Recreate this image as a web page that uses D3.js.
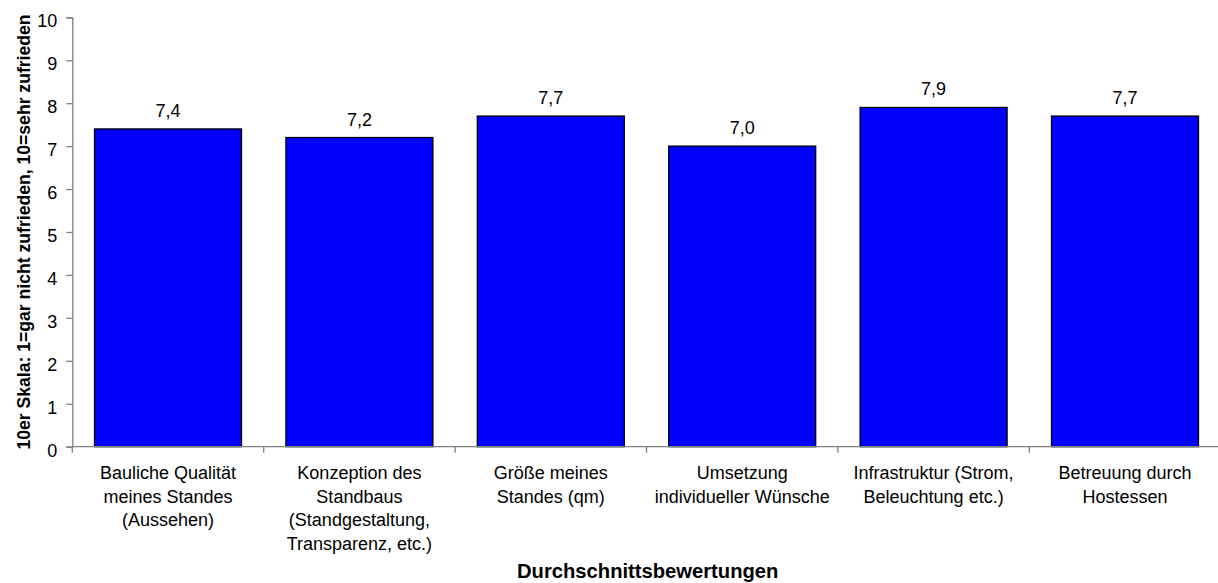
<!DOCTYPE html>
<html>
<head>
<meta charset="utf-8">
<script src="https://cdn.jsdelivr.net/npm/d3@7"></script>
<style>
  html, body { margin: 0; padding: 0; background: #fff; }
  svg { display: block; font-family: "Liberation Sans", Arial, sans-serif; }
</style>
</head>
<body>
<svg id="chart" width="1218" height="583"></svg>
<script>
// Category labels (one entry per bar, split into display lines)
const categories = [
  ["Bauliche Qualität", "meines Standes", "(Aussehen)"],
  ["Konzeption des", "Standbaus", "(Standgestaltung,", "Transparenz, etc.)"],
  ["Größe meines", "Standes (qm)"],
  ["Umsetzung", "individueller Wünsche"],
  ["Infrastruktur (Strom,", "Beleuchtung etc.)"],
  ["Betreuung durch", "Hostessen"]
];
// Average ratings on the 10-point scale
const values = [7.4, 7.2, 7.7, 7.0, 7.9, 7.7];
const yTicks = [0, 1, 2, 3, 4, 5, 6, 7, 8, 9, 10];
const yTitle = "10er Skala: 1=gar nicht zufrieden, 10=sehr zufrieden";
const xTitle = "Durchschnittsbewertungen";

const svg = d3.select("#chart");
const plotLeft = 72.3, plotRight = 1220.7, plotTop = 17.3, plotBottom = 446.7;
const axisColor = "#808080";

const x = d3.scaleBand()
  .domain(d3.range(categories.length))
  .range([plotLeft, plotRight])
  .paddingInner(0.232)
  .paddingOuter(0.116);

const y = d3.scaleLinear().domain([0, 10]).range([plotBottom, plotTop]);

// Bars
svg.append("g").selectAll("rect")
  .data(values)
  .join("rect")
  .attr("x", (d, i) => x(i))
  .attr("width", x.bandwidth())
  .attr("y", d => y(d))
  .attr("height", d => y(0) - y(d))
  .attr("fill", "#0000ff")
  .attr("stroke", "#000")
  .attr("stroke-width", 1.3);

// Value labels above bars
svg.append("g").selectAll("text")
  .data(values)
  .join("text")
  .attr("x", (d, i) => x(i) + x.bandwidth() / 2)
  .attr("y", d => y(d) - 12)
  .attr("text-anchor", "middle")
  .attr("font-size", 18)
  .attr("fill", "#000")
  .text(d => d.toFixed(1).replace(".", ","));

// Y axis
const yAxis = svg.append("g")
  .attr("transform", `translate(${plotLeft},0)`)
  .call(d3.axisLeft(y).tickValues(yTicks).tickSize(6).tickPadding(9).tickFormat(d3.format("d")));
yAxis.select(".domain").attr("stroke", axisColor).attr("stroke-width", 1.3);
yAxis.selectAll(".tick line").attr("stroke", axisColor).attr("stroke-width", 1.3);
yAxis.selectAll(".tick text")
  .attr("font-size", 18)
  .attr("font-family", "Liberation Sans, Arial, sans-serif")
  .attr("fill", "#000")
  .attr("dy", "0.52em");

// X axis with ticks at band boundaries
const xg = svg.append("g");
xg.append("line")
  .attr("x1", plotLeft).attr("x2", plotRight)
  .attr("y1", plotBottom).attr("y2", plotBottom)
  .attr("stroke", axisColor).attr("stroke-width", 1.3);
xg.selectAll("line.tick")
  .data(d3.range(categories.length + 1))
  .join("line")
  .attr("class", "tick")
  .attr("x1", i => plotLeft + i * x.step())
  .attr("x2", i => plotLeft + i * x.step())
  .attr("y1", plotBottom).attr("y2", plotBottom + 6)
  .attr("stroke", axisColor).attr("stroke-width", 1.3);

// Category labels
const catG = svg.append("g").selectAll("text")
  .data(categories)
  .join("text")
  .attr("text-anchor", "middle")
  .attr("font-size", 18)
  .attr("fill", "#000")
  .attr("transform", (d, i) => `translate(${x(i) + x.bandwidth() / 2},479.3)`);
catG.selectAll("tspan")
  .data(d => d)
  .join("tspan")
  .attr("x", 0)
  .attr("y", (d, j) => j * 23.5)
  .text(d => d);

// Axis titles
svg.append("text")
  .attr("transform", `translate(29.5,${(plotTop + plotBottom) / 2}) rotate(-90)`)
  .attr("text-anchor", "middle")
  .attr("font-size", 17.6)
  .attr("font-weight", "bold")
  .attr("fill", "#000")
  .text(yTitle);

svg.append("text")
  .attr("x", 647.7)
  .attr("y", 578.3)
  .attr("text-anchor", "middle")
  .attr("font-size", 20.2)
  .attr("font-weight", "bold")
  .attr("fill", "#000")
  .text(xTitle);
</script>
</body>
</html>
